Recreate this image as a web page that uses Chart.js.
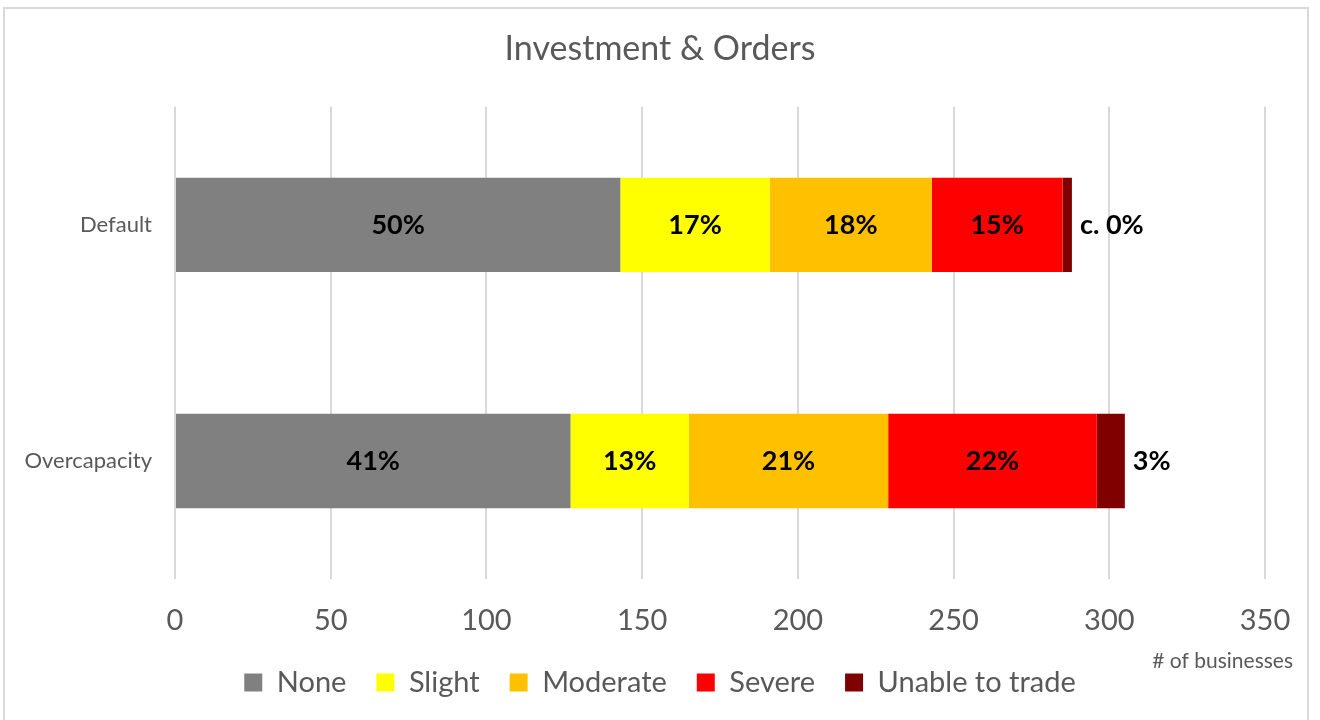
<!DOCTYPE html>
<html>
<head>
<meta charset="utf-8">
<script src="https://cdn.jsdelivr.net/npm/chart.js@4/dist/chart.umd.min.js"></script>
<style>
  body { margin: 0; background: #fff; }
  #wrap { position: relative; width: 1320px; height: 720px; }
  #frame { position: absolute; left: 3px; top: 7px; width: 1306px; height: 720px; border: 2px solid #d9d9d9; box-sizing: border-box; }
  canvas { position: absolute; left: 0; top: 0; }
</style>
</head>
<body>
<div id="wrap">
  <div id="frame"></div>
  <canvas id="barChart" width="1320" height="720"></canvas>
</div>
<script>
// categories and series (number of businesses)
const categories = ["Default", "Overcapacity"];
const seriesNames = ["None", "Slight", "Moderate", "Severe", "Unable to trade"];
const seriesColors = ["#808080", "#ffff00", "#ffc000", "#ff0000", "#800000"];
const none = [143, 127];
const slight = [48, 38];
const moderate = [52, 64];
const severe = [42, 67];
const unable = [3, 9];
// labels as printed on the bars
const noneLabels = ["50%", "41%"];
const slightLabels = ["17%", "13%"];
const moderateLabels = ["18%", "21%"];
const severeLabels = ["15%", "22%"];
const unableLabels = ["c. 0%", "3%"];

const xTicks = [0, 50, 100, 150, 200, 250, 300, 350];
const xTitle = "# of businesses";

const values = [none, slight, moderate, severe, unable];
const labels = [noneLabels, slightLabels, moderateLabels, severeLabels, unableLabels];

const FONT = "Lato, 'Liberation Sans', sans-serif";

// percentage labels on the bars + the x axis caption
const barLabels = {
    id: "barLabels",
    afterDatasetsDraw(chart) {
        const ctx = chart.ctx;
        ctx.save();
        ctx.font = "bold 27px " + FONT;
        ctx.fillStyle = "#000";
        ctx.textBaseline = "middle";
        chart.data.datasets.forEach((ds, i) => {
            const meta = chart.getDatasetMeta(i);
            meta.data.forEach((bar, j) => {
                const txt = ds.valueLabels[j];
                if (i === chart.data.datasets.length - 1) {
                    ctx.textAlign = "left";
                    ctx.fillText(txt, bar.x + 8, bar.y);
                } else {
                    ctx.textAlign = "center";
                    ctx.fillText(txt, (bar.x + bar.base) / 2, bar.y);
                }
            });
        });
        const area = chart.chartArea;
        ctx.font = "21px " + FONT;
        ctx.fillStyle = "#595959";
        ctx.textAlign = "right";
        ctx.fillText(xTitle, area.right + 28, area.bottom + 82);
        ctx.restore();
    }
};

new Chart(document.querySelector("#barChart"), {
    type: "bar",
    data: {
        labels: categories,
        datasets: seriesNames.map((name, i) => ({
            label: name,
            data: values[i],
            valueLabels: labels[i],
            backgroundColor: seriesColors[i],
            borderWidth: 0,
            categoryPercentage: 0.4,
            barPercentage: 1.0
        }))
    },
    options: {
        indexAxis: "y",
        responsive: false,
        animation: false,
        layout: { padding: { left: 0, right: 0, top: 0, bottom: 13 } },
        scales: {
            x: {
                stacked: true,
                min: 0,
                max: 350,
                afterBuildTicks: (scale) => { scale.ticks = xTicks.map(v => ({ value: v })); },
                afterFit: (scale) => { scale.height = 59; },
                grid: { color: "#d9d9d9", lineWidth: 2, drawTicks: false },
                border: { display: false },
                ticks: { color: "#595959", font: { family: FONT, size: 29 }, padding: 24 }
            },
            y: {
                stacked: true,
                afterFit: (scale) => { scale.width = 175; },
                grid: { display: false },
                border: { display: false },
                ticks: { color: "#595959", font: { family: FONT, size: 22 }, padding: 15 }
            },
            // empty right-hand spacer so the plot ends at 350 like the original
            yRight: {
                type: "linear",
                axis: "y",
                position: "right",
                afterFit: (scale) => { scale.width = 55; },
                grid: { display: false },
                border: { display: false },
                ticks: { display: false }
            }
        },
        plugins: {
            title: {
                display: true,
                text: "Investment & Orders",
                color: "#595959",
                font: { family: FONT, size: 34, weight: "normal" },
                padding: { top: 29, bottom: 37 }
            },
            legend: {
                position: "bottom",
                labels: {
                    color: "#595959",
                    font: { family: FONT, size: 29 },
                    boxWidth: 18,
                    boxHeight: 18,
                    padding: 30
                }
            },
            tooltip: { enabled: false }
        }
    },
    plugins: [barLabels]
});
</script>
</body>
</html>
